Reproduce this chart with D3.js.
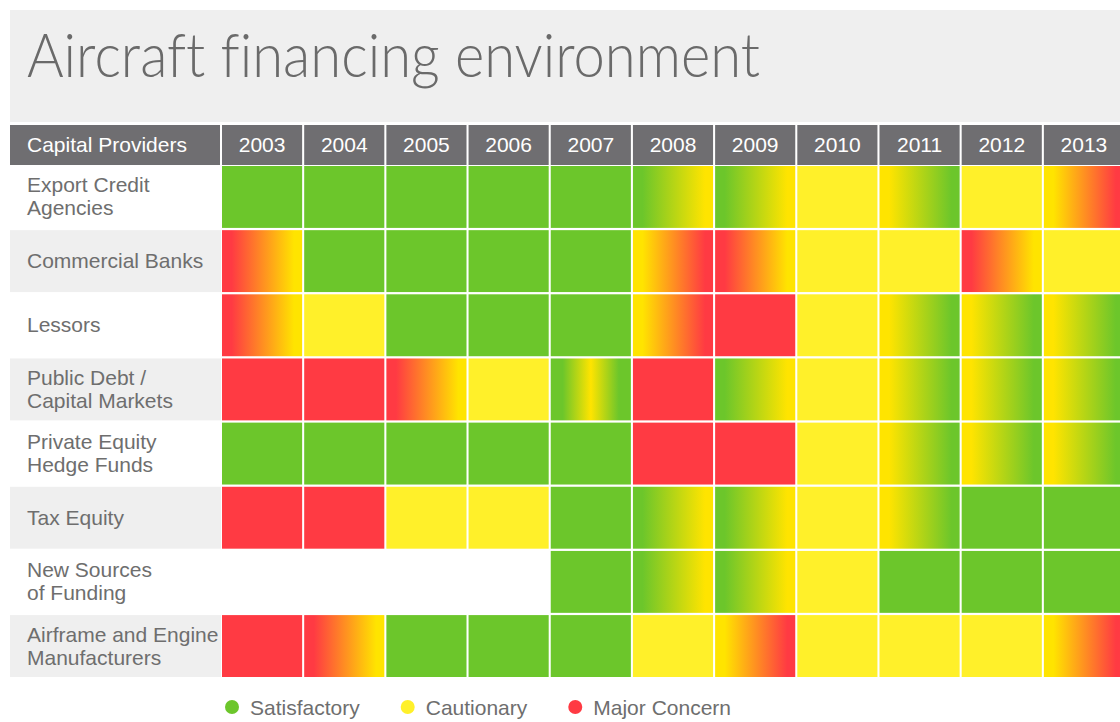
<!DOCTYPE html>
<html>
<head>
<meta charset="utf-8">
<script src="https://cdn.jsdelivr.net/npm/d3@7"></script>
<style>
  body { margin: 0; background: #fff; }
  text { font-family: "Liberation Sans", Arial, sans-serif; }
</style>
</head>
<body>
<svg width="1120" height="722"></svg>
<script>
// chart data
const years = ["2003", "2004", "2005", "2006", "2007", "2008", "2009", "2010", "2011", "2012", "2013"];
const providers = [
    ["Export Credit", "Agencies"],
    ["Commercial Banks"],
    ["Lessors"],
    ["Public Debt /", "Capital Markets"],
    ["Private Equity", "Hedge Funds"],
    ["Tax Equity"],
    ["New Sources", "of Funding"],
    ["Airframe and Engine", "Manufacturers"]
];
// G = satisfactory, Y = cautionary, R = major concern; several letters = shift during the year
const exportCredit    = ["G", "G", "G", "G", "G", "GY", "GY", "Y", "YG", "Y", "YR"];
const commercialBanks = ["RY", "G", "G", "G", "G", "YR", "RY", "Y", "Y", "RY", "Y"];
const lessors         = ["RY", "Y", "G", "G", "G", "YR", "R", "Y", "YG", "YG", "YG"];
const publicDebt      = ["R", "R", "RY", "Y", "GYG", "R", "GY", "Y", "YG", "YG", "YG"];
const privateEquity   = ["G", "G", "G", "G", "G", "R", "R", "Y", "YG", "YG", "YG"];
const taxEquity       = ["R", "R", "Y", "Y", "G", "GY", "GY", "Y", "YG", "G", "G"];
const newSources      = ["", "", "", "", "G", "GY", "GY", "Y", "G", "G", "G"];
const airframe        = ["R", "RY", "G", "G", "G", "Y", "YR", "Y", "Y", "Y", "YR"];
const statusRows = [exportCredit, commercialBanks, lessors, publicDebt, privateEquity, taxEquity, newSources, airframe];
const legendCodes = ["G", "Y", "R"];
const legendLabels = ["Satisfactory", "Cautionary", "Major Concern"];

const solid = {G: "#6cc62b", Y: "#fff02a", R: "#ff3a43"};
const blend = {G: "#6cc62b", Y: "#ffe400", R: "#ff3a43"};
const textGray = "#6e6e6e";

const svg = d3.select("svg");

const x = d3.scaleBand().domain(years).range([222, 1124]).paddingInner(0.025).paddingOuter(0);
const y = d3.scaleBand().domain(d3.range(providers.length)).range([166, 677]).paddingInner(0.035).paddingOuter(0);

// gradients for the cells that change during a year
const defs = svg.append("defs");
const codes = Array.from(new Set(statusRows.flat().filter(c => c.length > 1)));
codes.forEach(code => {
    const grad = defs.append("linearGradient")
        .attr("id", "grad-" + code)
        .attr("x1", "0%").attr("x2", "100%").attr("y1", "0%").attr("y2", "0%");
    let stops;
    if (code.length === 2) {
        stops = [[0, code[0]], [0.12, code[0]], [0.9, code[1]], [1, code[1]]];
    } else {
        stops = [[0, code[0]], [0.15, code[0]], [0.5, code[1]], [0.85, code[2]], [1, code[2]]];
    }
    grad.selectAll("stop").data(stops).enter().append("stop")
        .attr("offset", d => d[0])
        .attr("stop-color", d => blend[d[1]]);
});

// title block
svg.append("rect")
    .attr("x", 10).attr("y", 10).attr("width", 1110).attr("height", 112)
    .attr("fill", "#efefef");
svg.append("text")
    .attr("x", 27).attr("y", 77)
    .attr("textLength", 733)
    .attr("lengthAdjust", "spacingAndGlyphs")
    .style("font-family", "Lato, 'Liberation Sans', sans-serif")
    .style("font-weight", 300)
    .style("font-variant-ligatures", "none")
    .style("font-size", "62px")
    .attr("fill", "#6a6a6a")
    .text("Aircraft financing environment");

// header row
const header = svg.append("g").attr("class", "header");
header.append("rect")
    .attr("x", 10).attr("y", 125).attr("width", 210).attr("height", 40)
    .attr("fill", "#6f6e71");
header.append("text")
    .attr("x", 27).attr("y", 152)
    .attr("fill", "#fff")
    .style("font-size", "21px")
    .text("Capital Providers");
header.selectAll(".year-bg")
    .data(years)
    .enter().append("rect")
    .attr("class", "year-bg")
    .attr("x", d => x(d))
    .attr("y", 125)
    .attr("width", x.bandwidth())
    .attr("height", 40)
    .attr("fill", "#6f6e71");
header.selectAll(".year")
    .data(years)
    .enter().append("text")
    .attr("class", "year")
    .attr("x", d => x(d) + x.bandwidth() / 2)
    .attr("y", 152)
    .attr("text-anchor", "middle")
    .attr("fill", "#fff")
    .style("font-size", "21px")
    .text(d => d);

// row labels
const labels = svg.append("g").attr("class", "labels");
labels.selectAll("rect")
    .data(providers)
    .enter().append("rect")
    .attr("x", 10)
    .attr("y", (d, i) => y(i))
    .attr("width", 211)
    .attr("height", y.bandwidth())
    .attr("fill", (d, i) => i % 2 ? "#efefef" : "#fff");
labels.selectAll("text")
    .data(providers)
    .enter().append("text")
    .attr("x", 27)
    .attr("fill", textGray)
    .style("font-size", "21px")
    .each(function(d, i) {
        const mid = y(i) + y.bandwidth() / 2;
        const lineH = 23;
        const first = mid + 7 - (d.length - 1) * lineH / 2;
        d3.select(this).selectAll("tspan")
            .data(d)
            .enter().append("tspan")
            .attr("x", 27)
            .attr("y", (t, k) => first + k * lineH)
            .text(t => t);
    });

// cells
const cells = [];
statusRows.forEach((row, i) => {
    row.forEach((code, j) => {
        if (code) cells.push({row: i, year: years[j], code: code});
    });
});
svg.append("g").attr("class", "cells")
    .selectAll("rect")
    .data(cells)
    .enter().append("rect")
    .attr("x", d => x(d.year))
    .attr("y", d => y(d.row))
    .attr("width", x.bandwidth())
    .attr("height", y.bandwidth())
    .attr("fill", d => d.code.length === 1 ? solid[d.code] : `url(#grad-${d.code})`);

// legend
const legend = svg.append("g").attr("class", "legend");
let lx = 232;
legendCodes.forEach((c, i) => {
    legend.append("circle")
        .attr("cx", lx).attr("cy", 707).attr("r", 7)
        .attr("fill", solid[c]);
    const t = legend.append("text")
        .attr("x", lx + 18).attr("y", 715)
        .attr("fill", textGray)
        .style("font-size", "21px")
        .text(legendLabels[i]);
    lx += 18 + t.node().getComputedTextLength() + 48;
});
</script>
</body>
</html>
